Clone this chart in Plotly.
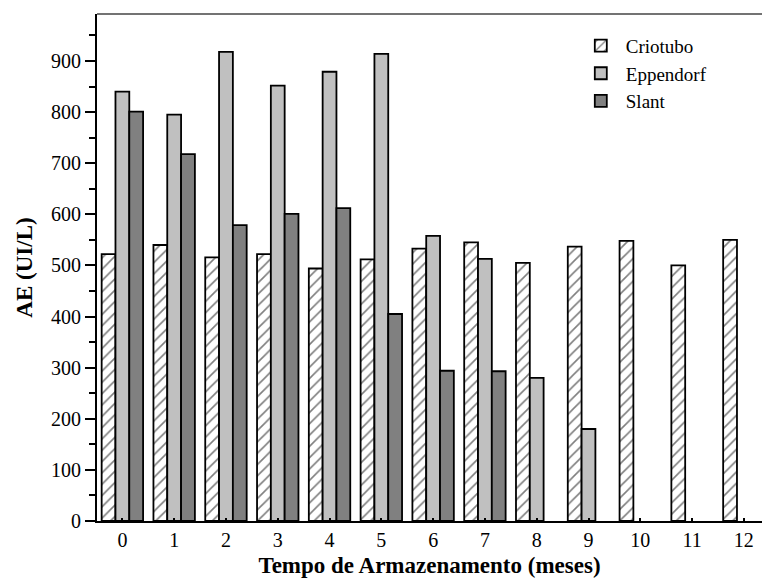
import plotly.graph_objects as go

months = list(range(13))
month_labels = [str(m) for m in months]
criotubo = [522, 540, 516, 522, 494, 512, 533, 545, 505, 537, 548, 500, 550]
eppendorf = [840, 795, 918, 852, 879, 914, 558, 513, 280, 180, None, None, None]
slant = [801, 718, 579, 601, 612, 405, 294, 293, None, None, None, None, None]

FONT = "Liberation Serif, Times New Roman, serif"

fig = go.Figure()
fig.add_trace(go.Bar(
    x=months, y=criotubo, name="Criotubo",
    marker=dict(color="white", line=dict(color="black", width=1.8),
                pattern=dict(shape="/", fgcolor="black", bgcolor="white",
                             size=8, solidity=0.2)),
))
fig.add_trace(go.Bar(
    x=months, y=eppendorf, name="Eppendorf",
    marker=dict(color="#C0C0C0", line=dict(color="black", width=1.8)),
))
fig.add_trace(go.Bar(
    x=months, y=slant, name="Slant",
    marker=dict(color="#808080", line=dict(color="black", width=1.8)),
))

fig.update_layout(
    width=762, height=578,
    margin=dict(l=97, r=0, t=14, b=57),
    paper_bgcolor="white", plot_bgcolor="white",
    barmode="group", bargap=0.2, bargroupgap=0,
    font=dict(family=FONT, size=20, color="black"),
    showlegend=True,
    legend=dict(x=0.72, y=0.975, xanchor="left", yanchor="top",
                bgcolor="rgba(0,0,0,0)", font=dict(family=FONT, size=19, color="black"),
                tracegroupgap=0, itemwidth=40),
    xaxis=dict(
        range=[-0.49, 12.35], tickmode="array", tickvals=months, ticktext=month_labels,
        tickfont=dict(family=FONT, size=20, color="black"),
        showline=True, linecolor="black", linewidth=2,
        ticks="inside", ticklen=3, tickwidth=1.5, tickcolor="black",
        showgrid=False, zeroline=False,
        title=dict(text="<b>Tempo de Armazenamento (meses)</b>",
                   font=dict(family=FONT, size=23, color="black"), standoff=12),
    ),
    yaxis=dict(
        range=[0, 992], dtick=100, tick0=0,
        tickfont=dict(family=FONT, size=20, color="black"),
        showline=True, linecolor="black", linewidth=2,
        ticks="outside", ticklen=10, tickwidth=2, tickcolor="black",
        minor=dict(dtick=50, ticks="outside", ticklen=6, tickwidth=2, tickcolor="black"),
        showgrid=False, zeroline=False,
        title=dict(text="<b>AE (UI/L)</b>", font=dict(family=FONT, size=23, color="black"), standoff=12),
    ),
    shapes=[dict(type="line", xref="paper", yref="paper", x0=0, x1=1, y0=1, y1=1,
                 line=dict(color="#444444", width=1.5))],
)

fig.write_html("out.html")
